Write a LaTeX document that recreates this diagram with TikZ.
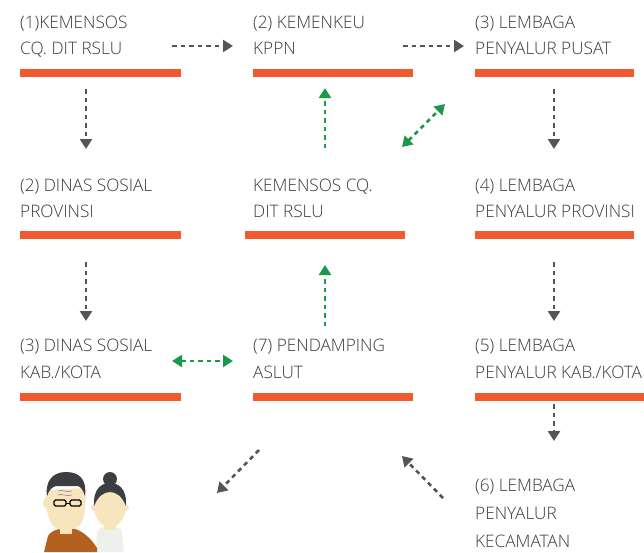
\documentclass[tikz,border=0pt]{standalone}
\usepackage{fontspec}
\setmainfont{Open Sans}[UprightFont={* Light}]
\usetikzlibrary{arrows.meta}
\definecolor{barorange}{HTML}{F15A2E}
\definecolor{flowgray}{HTML}{555555}
\definecolor{flowgreen}{HTML}{1A9A48}
\definecolor{txtgray}{HTML}{3A3A3A}
\definecolor{hairdark}{HTML}{3C3E41}
\definecolor{skin}{HTML}{F7E5BE}
\definecolor{shirtbrown}{HTML}{B4601E}
\definecolor{blouse}{HTML}{EEF0EC}
\tikzset{
  label/.style={anchor=base west, inner sep=0pt, text=txtgray, font=\fontsize{17.2}{17}\selectfont},
  bar/.style={fill=barorange, draw=none},
  grayflow/.style={draw=flowgray, line width=2.6pt, dash pattern=on 4.5pt off 4pt,
    -{Triangle[length=10pt,width=12pt]}},
  greenflow/.style={draw=flowgreen, line width=2.6pt, dash pattern=on 4.5pt off 4pt,
    -{Triangle[length=10pt,width=12pt]}},
  greenboth/.style={draw=flowgreen, line width=2.6pt, dash pattern=on 4.5pt off 4pt,
    {Triangle[length=10pt,width=12pt]}-{Triangle[length=10pt,width=12pt]}},
}
\begin{document}
\begin{tikzpicture}[x=1pt,y=-1pt]
\useasboundingbox (0,0) rectangle (644,552);

% ---- column 1 ----
\node[label] (a1) at (20,28) {(1)KEMENSOS};
\node[label] (a2) at (20,54) {CQ. DIT RSLU};
\fill[bar] (20,69) rectangle (181,77);
\node[label] (b1) at (20,191) {(2) DINAS SOSIAL};
\node[label] (b2) at (20,217) {PROVINSI};
\fill[bar] (20,231) rectangle (181,239);
\node[label] (c1) at (20,351) {(3) DINAS SOSIAL};
\node[label] (c2) at (20,378) {KAB./KOTA};
\fill[bar] (20,393) rectangle (181,401);

% ---- column 2 ----
\node[label] (d1) at (253,28) {(2) KEMENKEU};
\node[label] (d2) at (253,54) {KPPN};
\fill[bar] (253,69) rectangle (413,77);
\node[label] (e1) at (253,191) {KEMENSOS CQ.};
\node[label] (e2) at (253,217) {DIT RSLU};
\fill[bar] (245,231) rectangle (405,239);
\node[label] (f1) at (253,351) {(7) PENDAMPING};
\node[label] (f2) at (253,378) {ASLUT};
\fill[bar] (253,393) rectangle (413,401);

% ---- column 3 ----
\node[label] (g1) at (475,28) {(3) LEMBAGA};
\node[label] (g2) at (475,54) {PENYALUR PUSAT};
\fill[bar] (475,69) rectangle (634,77);
\node[label] (h1) at (475,191) {(4) LEMBAGA};
\node[label] (h2) at (475,217) {PENYALUR PROVINSI};
\fill[bar] (475,231) rectangle (634,239);
\node[label] (i1) at (475,351) {(5) LEMBAGA};
\node[label] (i2) at (475,378) {PENYALUR KAB./KOTA};
\fill[bar] (475,393) rectangle (644,401);
\node[label] (j1) at (475,491) {(6) LEMBAGA};
\node[label] (j2) at (475,519) {PENYALUR};
\node[label] (j3) at (475,547) {KECAMATAN};

% ---- connector end points ----
\coordinate (p1s) at (172,46);  \coordinate (p1e) at (233,46);
\coordinate (p2s) at (403,46);  \coordinate (p2e) at (464,46);
\coordinate (v1s) at (86,89);   \coordinate (v1e) at (86,149);
\coordinate (v2s) at (86,262);  \coordinate (v2e) at (86,321);
\coordinate (v3s) at (554,89);  \coordinate (v3e) at (554,149);
\coordinate (v4s) at (554,262); \coordinate (v4e) at (554,321);
\coordinate (v5s) at (554,404); \coordinate (v5e) at (554,441);
\coordinate (u1s) at (325,148); \coordinate (u1e) at (325,88);
\coordinate (u2s) at (325,326); \coordinate (u2e) at (325,265);
\coordinate (dg1) at (402,147); \coordinate (dg2) at (445,104);
\coordinate (hg1) at (172,361); \coordinate (hg2) at (233,361);
\coordinate (s1s) at (259,450); \coordinate (s1e) at (217,493);
\coordinate (s2s) at (443,498); \coordinate (s2e) at (402,456);

% ---- gray flows ----
\draw[grayflow] (p1s) -- (p1e);
\draw[grayflow] (p2s) -- (p2e);
\draw[grayflow] (v1s) -- (v1e);
\draw[grayflow] (v2s) -- (v2e);
\draw[grayflow] (v3s) -- (v3e);
\draw[grayflow] (v4s) -- (v4e);
\draw[grayflow] (v5s) -- (v5e);
\draw[grayflow] (s1s) -- (s1e);
\draw[grayflow] (s2s) -- (s2e);

% ---- green flows ----
\draw[greenflow] (u1s) -- (u1e);
\draw[greenflow] (u2s) -- (u2e);
\draw[greenboth] (dg1) -- (dg2);
\draw[greenboth] (hg1) -- (hg2);

% ---- elderly couple ----
% woman
\fill[blouse] (96,552) -- (97,532) .. controls (100,524) and (120,524) .. (122,532) -- (124,552) -- cycle;
\fill[skin] (104,518) rectangle (116,530);
\fill[skin] (110,506) ellipse (16pt and 21pt);
\fill[skin] (94,508) circle (3pt);
\fill[skin] (126,508) circle (3pt);
\fill[hairdark] (94,506) .. controls (93,488) and (102,483) .. (110,483)
  .. controls (118,483) and (127,488) .. (126,506)
  .. controls (122,496) and (116,492) .. (110,492)
  .. controls (104,492) and (98,496) .. (94,506) -- cycle;
\fill[hairdark] (110,479) circle (7pt);
% man
\fill[shirtbrown] (44,552) -- (48,536) .. controls (52,528) and (70,526) .. (78,530)
  .. controls (86,534) and (92,540) .. (97,548) -- (97,552) -- cycle;
\fill[skin] (60,518) rectangle (72,534);
\fill[skin] (46,490) .. controls (45,507) and (48,524) .. (56,528)
  .. controls (64,532) and (78,530) .. (82,522)
  .. controls (86,512) and (86,496) .. (85,488) -- cycle;
\fill[skin] (46,503) ellipse (3pt and 5pt);
\fill[hairdark] (47,496) .. controls (45,482) and (52,472) .. (66,472)
  .. controls (80,472) and (87,480) .. (85,496)
  .. controls (83,490) and (81,487) .. (78,486)
  -- (56,486) .. controls (52,487) and (49,490) .. (47,496) -- cycle;
\draw[hairdark!60, line width=0.6pt] (58,491) .. controls (62,489) and (66,493) .. (72,491);
\draw[hairdark!60, line width=0.6pt] (58,495) .. controls (62,493) and (66,497) .. (72,495);
\draw[black, line width=1.2pt, rounded corners=1.5pt] (54,500) rectangle (66,506);
\draw[black, line width=1.2pt, rounded corners=1.5pt] (70,500) rectangle (81,506);
\draw[black, line width=1pt] (66,503) -- (70,503);
\end{tikzpicture}
\end{document}
